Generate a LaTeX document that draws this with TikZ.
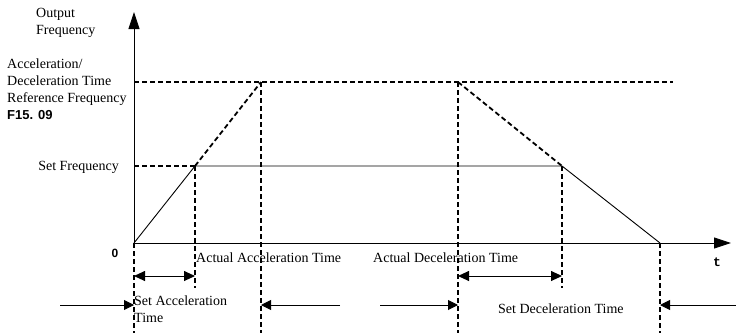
\documentclass[tikz,border=0pt]{standalone}
\usepackage{fontspec}
\setmainfont{Liberation Serif}
\newfontfamily\boldsans{Liberation Sans}
\newfontfamily\boldmono{Liberation Mono}
\usetikzlibrary{arrows.meta}

\begin{document}
\begin{tikzpicture}[x=1pt, y=-1pt, font=\fontsize{14}{17}\selectfont,
    dashline/.style={line width=1.8pt, dash pattern=on 5pt off 3pt},
    solidline/.style={line width=0.9pt},
    axis/.style={line width=0.9pt, -{Triangle[length=17pt,width=11pt]}},
    dimline/.style={line width=0.9pt, {Triangle[length=11pt,width=10pt]}-{Triangle[length=11pt,width=10pt]}},
    pointer/.style={line width=0.9pt, -{Triangle[length=10pt,width=10pt]}},
    lbl/.style={inner sep=0pt}]
\useasboundingbox (0,0) rectangle (736,333);
                    % Points
                    \coordinate (O) at (134,243);
                    \coordinate (ytop) at (134,12);
                    \coordinate (xend) at (731,243);
                    \coordinate (refL) at (134,82);
                    \coordinate (refR) at (673,82);
                    \coordinate (setL) at (134,166);
                    \coordinate (acc) at (195,166);
                    \coordinate (accmax) at (261,82);
                    \coordinate (decmax) at (458,82);
                    \coordinate (dec) at (562,166);
                    \coordinate (stop) at (660,243);
                    \coordinate (Ob) at (134,333);
                    \coordinate (accb) at (195,288);
                    \coordinate (accmaxb) at (261,333);
                    \coordinate (decmaxb) at (458,333);
                    \coordinate (decb) at (562,288);
                    \coordinate (stopb) at (660,333);
                    \coordinate (a1) at (134,276);
                    \coordinate (a2) at (195,276);
                    \coordinate (d1) at (458,276);
                    \coordinate (d2) at (562,276);
                    \coordinate (p1) at (60,305);
                    \coordinate (p2) at (134,305);
                    \coordinate (p3) at (340,305);
                    \coordinate (p4) at (261,305);
                    \coordinate (p5) at (380,305);
                    \coordinate (p6) at (458,305);
                    \coordinate (p7) at (736,305);
                    \coordinate (p8) at (660,305);
                    % Nodes
                    \node[lbl, anchor=north west, align=left] (yname) at (36,8.5) {Output\\Frequency};
                    \node[lbl, anchor=north west, align=left] (refname) at (7,58.5) {Acceleration/\\Deceleration Time\\Reference Frequency\\{\boldsans\bfseries\fontsize{13}{17}\selectfont F15. 09}};
                    \node[lbl, anchor=base east] (setname) at (119,170.5) {Set Frequency};
                    \node[lbl, anchor=base] (zero) at (115,257) {\boldsans\bfseries\fontsize{12}{14}\selectfont 0};
                    \node[lbl, anchor=base] (tname) at (717,266) {\boldmono\bfseries\fontsize{13}{14}\selectfont t};
                    \node[lbl, anchor=base west] (actacc) at (196,262) {Actual Acceleration Time};
                    \node[lbl, anchor=base west] (actdec) at (373,262) {Actual Deceleration Time};
                    \node[lbl, anchor=north west, align=left] (setacc) at (134,295.5) {Set Acceleration\\Time};
                    \node[lbl, anchor=base west] (setdec) at (498,313) {Set Deceleration Time};
                    % Axes
                    \draw[axis] (O) -- (ytop);
                    \draw[axis] (O) -- (xend);
                    % Curve
                    \draw[dashline] (refL) -- (refR);
                    \draw[dashline] (setL) -- (acc);
                    \draw[solidline] (O) -- (acc) -- (dec) -- (stop);
                    \draw[dashline] (acc) -- (accmax);
                    \draw[dashline] (decmax) -- (dec);
                    % Guides
                    \draw[dashline] (O) -- (Ob);
                    \draw[dashline] (acc) -- (accb);
                    \draw[dashline] (accmax) -- (accmaxb);
                    \draw[dashline] (decmax) -- (decmaxb);
                    \draw[dashline] (dec) -- (decb);
                    \draw[dashline] (stop) -- (stopb);
                    % Time spans
                    \draw[dimline] (a1) -- (a2);
                    \draw[dimline] (d1) -- (d2);
                    \draw[pointer] (p1) -- (p2);
                    \draw[pointer] (p3) -- (p4);
                    \draw[pointer] (p5) -- (p6);
                    \draw[pointer] (p7) -- (p8);
\end{tikzpicture}
\end{document}
